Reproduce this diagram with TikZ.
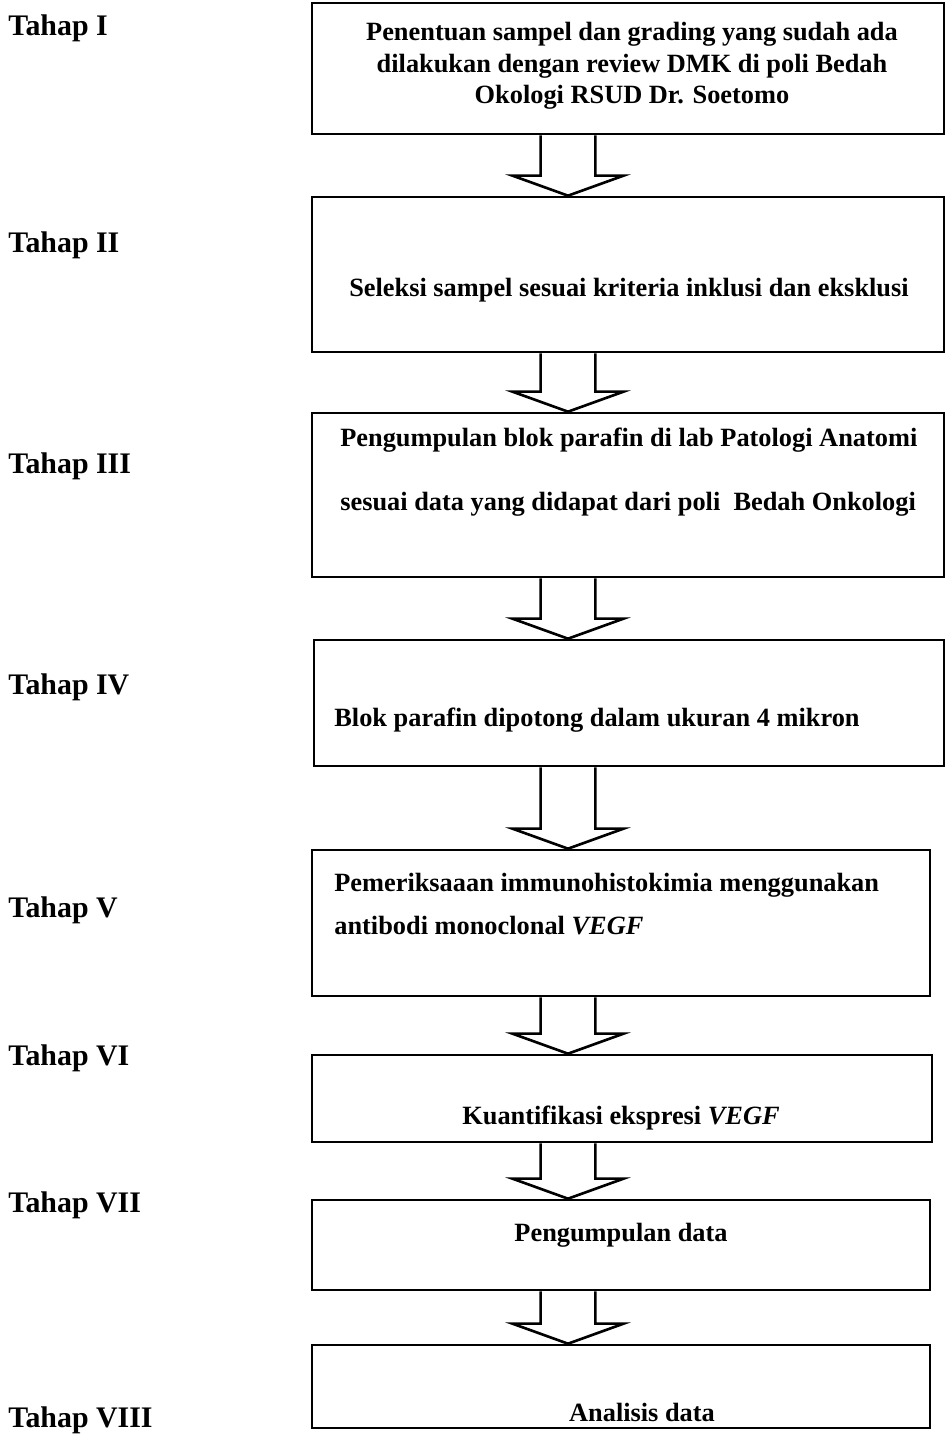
\documentclass[tikz,border=0pt]{standalone}
\usepackage{fontspec}
\setmainfont{Liberation Serif}
\usetikzlibrary{calc,fit}

\newcommand{\flowarrow}[2]{%
  \draw[hollow] let \p1=(#1.south), \p2=(#2.north), \p3=(ax) in
    (\x3-15.6pt,\y1) -- (\x3-15.6pt,\y2+11.4pt) -- (\x3-31.6pt,\y2+11.4pt)
    -- (\x3,\y2) -- (\x3+31.6pt,\y2+11.4pt) -- (\x3+15.6pt,\y2+11.4pt) -- (\x3+15.6pt,\y1);}

\begin{document}
\begin{tikzpicture}[
  x=0.02cm, y=-0.02cm,
  stage/.style={draw, line width=1.5pt, inner sep=0pt},
  txt/.style={font=\bfseries\fontsize{15}{18}\selectfont, inner sep=0pt},
  tahap/.style={font=\bfseries\fontsize{17}{20}\selectfont, anchor=west, inner sep=0pt},
  hollow/.style={line width=1.5pt, line join=miter}
]
\useasboundingbox (0,0) rectangle (945,1438);
\coordinate (ax) at (568,0);

\node[stage, fit={(312,3) (944,134)}] (b1) {};
\node[stage, fit={(312,197) (944,352)}] (b2) {};
\node[stage, fit={(312,413) (944,577)}] (b3) {};
\node[stage, fit={(314,640) (944,766)}] (b4) {};
\node[stage, fit={(312,850) (930,996)}] (b5) {};
\node[stage, fit={(312,1055) (932,1142)}] (b6) {};
\node[stage, fit={(312,1200) (930,1290)}] (b7) {};
\node[stage, fit={(312,1345) (930,1428)}] (b8) {};

\node[txt, align=center, font=\bfseries\fontsize{15}{17.9}\selectfont] (t1) at (632,66)
  {Penentuan sampel dan grading yang sudah ada\\ dilakukan dengan review DMK di poli Bedah\\ Okologi RSUD Dr. Soetomo};
\node[txt] (t2) at (629,290) {Seleksi sampel sesuai kriteria inklusi dan eksklusi};
\node[txt, anchor=west, align=left, font=\bfseries\fontsize{15}{36}\selectfont] (t3) at (340,472)
  {Pengumpulan blok parafin di lab Patologi Anatomi\\ sesuai data yang didapat dari poli\ \ Bedah Onkologi};
\node[txt, anchor=west] (t4) at (334,720) {Blok parafin dipotong dalam ukuran 4 mikron};
\node[txt, anchor=west, align=left, font=\bfseries\fontsize{15}{24.5}\selectfont] (t5) at (334,904)
  {Pemeriksaaan immunohistokimia menggunakan\\ antibodi monoclonal \textit{VEGF}};
\node[txt] (t6) at (621,1118) {Kuantifikasi ekspresi \textit{VEGF}};
\node[txt] (t7) at (621,1235) {Pengumpulan data};
\node[txt] (t8) at (642,1412) {Analisis data};

\node[tahap] (s1) at (8,28) {Tahap I};
\node[tahap] (s2) at (8,245) {Tahap II};
\node[tahap] (s3) at (8,466) {Tahap III};
\node[tahap] (s4) at (8,687) {Tahap IV};
\node[tahap] (s5) at (8,910) {Tahap V};
\node[tahap] (s6) at (8,1058) {Tahap VI};
\node[tahap] (s7) at (8,1205) {Tahap VII};
\node[tahap] (s8) at (8,1420) {Tahap VIII};

\flowarrow{b1}{b2}
\flowarrow{b2}{b3}
\flowarrow{b3}{b4}
\flowarrow{b4}{b5}
\flowarrow{b5}{b6}
\flowarrow{b6}{b7}
\flowarrow{b7}{b8}
\end{tikzpicture}
\end{document}
